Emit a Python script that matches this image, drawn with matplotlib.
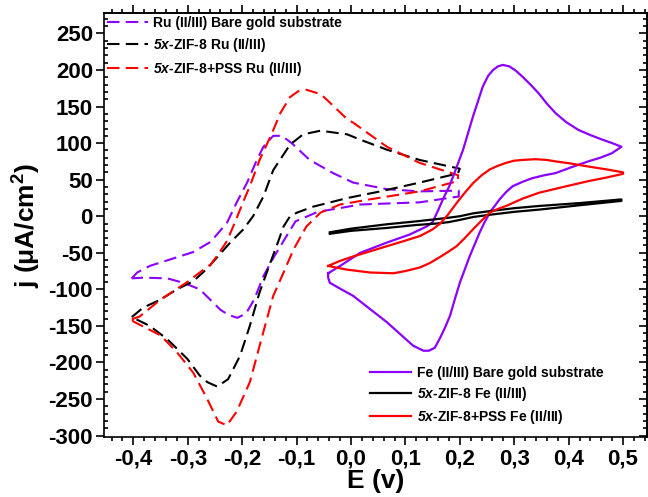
import matplotlib
matplotlib.use("Agg")
import matplotlib.pyplot as plt
from matplotlib.ticker import MultipleLocator, FuncFormatter, NullFormatter

plt.rcParams['font.family'] = ['Liberation Sans', 'DejaVu Sans']
plt.rcParams['font.weight'] = 'bold'
plt.rcParams['axes.unicode_minus'] = False
plt.rcParams['mathtext.fontset'] = 'custom'
plt.rcParams['mathtext.rm'] = 'Liberation Sans:bold'
plt.rcParams['mathtext.bf'] = 'Liberation Sans:bold'
plt.rcParams['mathtext.it'] = 'Liberation Sans:bold:italic'
plt.rcParams['mathtext.bfit'] = 'Liberation Sans:bold:italic'

# --- Ru(II/III) cyclic voltammograms (E in V, j in uA/cm2) ---
ru_bare_E = [-0.403, -0.393, -0.370, -0.332, -0.290, -0.258, -0.228, -0.210, -0.191, -0.173,
             -0.161, -0.143, -0.127, -0.109, -0.076, -0.033, 0.004, 0.066, 0.126, 0.198,
             0.198, 0.126, 0.016, -0.006, -0.061, -0.102, -0.142, -0.161, -0.178, -0.193,
             -0.209, -0.225, -0.240, -0.278, -0.308, -0.338, -0.382, -0.403]
ru_bare_j = [-85, -77, -68, -59, -49, -35, -9, 19, 46, 77,
             95, 110, 110, 100, 77, 59, 46, 37, 34, 35,
             27, 19, 16, 13, 6, -7, -56, -82, -114, -133,
             -139, -135, -128, -100, -91, -85, -84, -85]

ru_zif_E = [-0.403, -0.382, -0.350, -0.320, -0.290, -0.265, -0.222, -0.198, -0.180, -0.161,
            -0.143, -0.112, -0.088, -0.056, -0.007, 0.016, 0.066, 0.126, 0.200,
            0.196, 0.182, 0.126, 0.054, -0.006, -0.038, -0.070, -0.099, -0.112, -0.124, -0.134,
            -0.148, -0.168, -0.186, -0.204, -0.226, -0.246, -0.264, -0.278, -0.301,
            -0.338, -0.370, -0.403]
ru_zif_j = [-138, -125, -114, -100, -89, -72, -36, -18, 0, 27,
            63, 98, 112, 117, 112, 105, 91, 77, 65,
            58, 56, 46, 34, 25, 19, 13, 5, 0, -14, -35,
            -63, -104, -150, -191, -223, -233, -227, -218, -195,
            -168, -150, -138]

ru_pss_E = [-0.403, -0.388, -0.350, -0.301, -0.278, -0.258, -0.244, -0.228, -0.212, -0.198,
            -0.186, -0.168, -0.145, -0.130, -0.112, -0.097, -0.082, -0.056, -0.044, -0.006,
            0.004, 0.066, 0.126, 0.197,
            0.196, 0.126, 0.034, -0.020, -0.056, -0.082, -0.106, -0.124, -0.143, -0.161,
            -0.186, -0.210, -0.228, -0.244, -0.265, -0.290, -0.320, -0.350, -0.400, -0.403]
ru_pss_j = [-141, -137, -114, -90, -77, -66, -52, -34, -6, 20,
            41, 77, 114, 141, 163, 171, 173, 167, 159, 132,
            128, 95, 73, 56,
            48, 34, 23, 16, 5, -14, -46, -77, -109, -158,
            -227, -267, -286, -281, -249, -214, -186, -163, -144, -141]

# --- Fe(II/III) cyclic voltammograms ---
fe_bare_E = [-0.042, -0.020, 0.017, 0.066, 0.108, 0.139, 0.150, 0.160, 0.170, 0.180,
             0.188, 0.206, 0.224, 0.242, 0.252, 0.261, 0.270, 0.279, 0.291, 0.303,
             0.315, 0.330, 0.345, 0.360, 0.376, 0.395, 0.418, 0.440, 0.461, 0.480, 0.497,
             0.479, 0.458, 0.436, 0.405, 0.376, 0.355, 0.333, 0.315, 0.297, 0.285,
             0.273, 0.264, 0.255, 0.245, 0.236, 0.227, 0.218, 0.209, 0.200, 0.191,
             0.182, 0.173, 0.164, 0.154, 0.143, 0.133, 0.114, 0.090, 0.066, 0.035,
             0.004, -0.025, -0.039, -0.042, -0.042]
fe_bare_j = [-78, -68, -50, -36, -25, -14, -8, 8, 25, 40,
             55, 91, 136, 177, 192, 200, 205, 207, 205, 199,
             191, 180, 168, 154, 141, 129, 118, 111, 105, 100, 95,
             86, 80, 75, 67, 59, 56, 52, 47, 41, 33,
             23, 14, 5, -9, -23, -39, -55, -73, -91, -113,
             -136, -152, -166, -180, -184, -184, -177, -161, -145, -127,
             -109, -97, -91, -84, -78]

fe_zif_E = [-0.039, 0.0, 0.066, 0.120, 0.157, 0.180, 0.200, 0.225, 0.255, 0.300, 0.345, 0.420, 0.497,
            0.497, 0.420, 0.345, 0.300, 0.255, 0.225, 0.200, 0.180, 0.157, 0.120, 0.066, 0.0, -0.039]
fe_zif_j = [-22, -17, -11, -7, -4, -2, 0, 4, 7, 11, 14, 18, 23,
            21, 15, 9, 6, 2, -1, -5, -8, -10, -12, -16, -20, -24]

fe_pss_E = [-0.042, -0.020, 0.004, 0.035, 0.066, 0.097, 0.127, 0.150, 0.164, 0.178,
            0.194, 0.209, 0.224, 0.240, 0.255, 0.270, 0.285, 0.300, 0.315, 0.339,
            0.360, 0.376, 0.405, 0.436, 0.470, 0.500,
            0.500, 0.470, 0.436, 0.390, 0.345, 0.315, 0.285, 0.270, 0.255, 0.240,
            0.224, 0.209, 0.194, 0.178, 0.163, 0.145, 0.127, 0.100, 0.078, 0.035,
            -0.008, -0.042]
fe_pss_j = [-68, -61, -55, -48, -41, -34, -27, -18, -10, 2,
            18, 32, 45, 56, 64, 69, 73, 76, 77, 78,
            77, 75, 72, 68, 64, 60,
            58, 53, 48, 40, 32, 24, 14, 10, 5, -6,
            -18, -30, -41, -49, -56, -64, -70, -75, -78, -77,
            -73, -68]

PURPLE = '#8B00FF'
RED = '#FF0000'
BLACK = '#000000'

fig = plt.figure(figsize=(6.48, 4.97), dpi=100)
ax = fig.add_axes([104 / 648, 1 - 437 / 497, (647 - 104) / 648, (437 - 13) / 497])

dash = (6, 3)
h1, = ax.plot(ru_bare_E, ru_bare_j, color=PURPLE, lw=1.5, dashes=dash,
              label=r'Ru (II/III) Bare gold substrate')
h2, = ax.plot(ru_zif_E, ru_zif_j, color=BLACK, lw=1.5, dashes=dash,
              label=r'$\mathbfit{5x}$-ZIF-8 Ru (II/III)')
h3, = ax.plot(ru_pss_E, ru_pss_j, color=RED, lw=1.5, dashes=dash,
              label=r'$\mathbfit{5x}$-ZIF-8+PSS Ru (II/III)')

h4, = ax.plot(fe_bare_E, fe_bare_j, color=PURPLE, lw=1.6,
              label='Fe (II/III) Bare gold substrate')
h5, = ax.plot(fe_zif_E, fe_zif_j, color=BLACK, lw=1.6,
              label=r'$\mathbfit{5x}$-ZIF-8 Fe (II/III)')
h6, = ax.plot(fe_pss_E, fe_pss_j, color=RED, lw=1.6,
              label=r'$\mathbfit{5x}$-ZIF-8+PSS Fe (II/III)')

ax.set_xlim(-0.454, 0.544)
ax.set_ylim(-302, 278)

ax.xaxis.set_major_locator(MultipleLocator(0.1))
ax.xaxis.set_minor_locator(MultipleLocator(0.02))
ax.yaxis.set_major_locator(MultipleLocator(50))
ax.yaxis.set_minor_locator(MultipleLocator(10))
ax.xaxis.set_major_formatter(FuncFormatter(
    lambda v, p: f'{v:.1f}'.replace('.', ',').replace('-0,0', '0,0')))
ax.yaxis.set_major_formatter(FuncFormatter(lambda v, p: f'{v:.0f}'))

ax.tick_params(which='both', top=False, right=False, width=1.2)
ax.tick_params(axis='x', which='major', direction='out', length=6, labelsize=16, pad=2)
ax.tick_params(axis='x', which='minor', direction='out', length=3)
ax.tick_params(axis='y', which='major', direction='out', length=6, labelsize=16, pad=2)
ax.tick_params(axis='y', which='minor', direction='in', length=3)
for s in ax.spines.values():
    s.set_linewidth(1.2)

# mirrored ticks on the top (outward) and right (inward) frame edges
top = ax.secondary_xaxis('top')
top.xaxis.set_major_locator(MultipleLocator(0.1))
top.xaxis.set_minor_locator(MultipleLocator(0.02))
top.xaxis.set_major_formatter(NullFormatter())
top.tick_params(which='major', direction='out', length=6, width=1.2)
top.tick_params(which='minor', direction='out', length=3, width=1.2)
top.spines['top'].set_linewidth(1.2)

right = ax.secondary_yaxis('right')
right.yaxis.set_major_locator(MultipleLocator(50))
right.yaxis.set_minor_locator(MultipleLocator(10))
right.yaxis.set_major_formatter(NullFormatter())
right.tick_params(which='major', direction='in', length=6, width=1.2)
right.tick_params(which='minor', direction='in', length=3, width=1.2)
right.spines['right'].set_linewidth(1.2)

ax.set_xlabel('E (v)', fontsize=19, fontweight='bold', labelpad=0)
ax.set_ylabel(r'j (μA/cm$^{2}$)', fontsize=19, fontweight='bold', labelpad=4)

leg1 = ax.legend(handles=[h1, h2, h3], loc='upper left', frameon=False,
                 prop={'size': 10, 'weight': 'bold'}, handlelength=3.0,
                 borderaxespad=0.0, borderpad=0.2, labelspacing=0.45,
                 handletextpad=0.35)
ax.add_artist(leg1)
ax.legend(handles=[h4, h5, h6], loc='lower right', frameon=False,
          prop={'size': 10, 'weight': 'bold'}, handlelength=2.9,
          borderaxespad=0.0, borderpad=0.2, labelspacing=0.35,
          handletextpad=0.45, bbox_to_anchor=(0.925, 0.02))

fig.savefig('out.png', dpi=100)
